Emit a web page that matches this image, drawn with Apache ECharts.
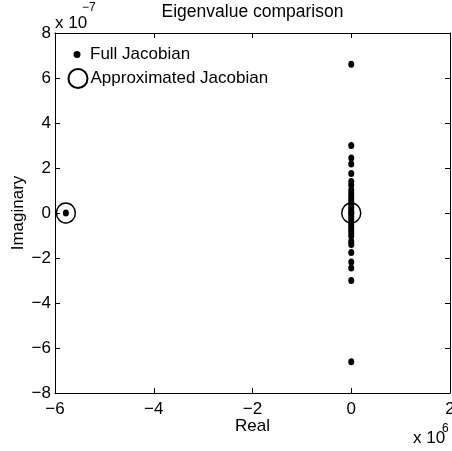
<!DOCTYPE html>
<html>
<head>
<meta charset="utf-8">
<script src="https://cdn.jsdelivr.net/npm/echarts@6/dist/echarts.min.js"></script>
<style>
  html, body { margin: 0; padding: 0; background: #fff; }
  #chart { width: 452px; height: 451px; }
</style>
</head>
<body>
<div id="chart"></div>
<script>
// Eigenvalues, real parts in units of 1e6 and imaginary parts in units of 1e-7
const fullReal = [-5.78, 0, 0, 0, 0, 0, 0, 0, 0, 0, 0, 0, 0, 0, 0, 0, 0,
                  0, 0, 0, 0, 0, 0, 0, 0, 0, 0, 0, 0, 0, 0, 0, 0];
const fullImag = [0, 6.61, 3.0, 2.44, 2.18, 1.76, 1.4, 1.25, 1.02, 0.88, 0.75, 0.62, 0.5, 0.38, 0.25, 0.12,
                  0, -0.12, -0.25, -0.38, -0.5, -0.62, -0.75, -0.88, -1.02, -1.25, -1.4, -1.76, -2.18, -2.44, -3.0, -6.61, 0];
const approxReal = [-5.78, 0];
const approxImag = [0, 0];

const xTicks = [-6, -4, -2, 0, 2];
const yTicks = [-8, -6, -4, -2, 0, 2, 4, 6, 8];

const FONT = '"Liberation Sans", Arial, Helvetica, sans-serif';
const fmt = v => (v < 0 ? '\u2212' + Math.abs(v) : String(v));

const fullData = fullReal.map((r, i) => [r, fullImag[i]]);
const approxData = approxReal.map((r, i) => [r, approxImag[i]]);

const baseAxis = {
  axisLine: { show: true, onZero: false, lineStyle: { color: '#000', width: 1 } },
  axisTick: { show: true, inside: true, length: 5, lineStyle: { color: '#000', width: 1 } },
  splitLine: { show: false }
};

const chart = echarts.init(document.getElementById('chart'), null, { renderer: 'canvas' });
chart.setOption({
  animation: false,
  backgroundColor: '#fff',
  grid: { left: 55, right: 2, top: 33, bottom: 58, containLabel: false, outerBoundsMode: 'none' },
  legend: [
    {
      data: [{ name: 'Full Jacobian', icon: 'circle' }], orient: 'vertical', left: 73.5, top: 46,
      itemWidth: 7, itemHeight: 7, padding: 0,
      textStyle: { fontFamily: FONT, fontSize: 17, color: '#000', padding: [0, 0, 0, 4.5] }
    },
    {
      data: ['Approximated Jacobian'], orient: 'vertical', left: 67.5, top: 68,
      itemWidth: 19, itemHeight: 20, padding: 0,
      textStyle: { fontFamily: FONT, fontSize: 17, color: '#000', padding: [0, 0, 0, -2] }
    }
  ],
  xAxis: [
    Object.assign({}, baseAxis, {
      type: 'value', position: 'bottom', min: xTicks[0], max: xTicks[xTicks.length - 1], interval: 2,
      name: 'Real', nameLocation: 'middle', nameGap: 25, nameMoveOverlap: false,
      nameTextStyle: { fontFamily: FONT, fontSize: 17, color: '#000' },
      axisLabel: { show: true, margin: 8, fontFamily: FONT, fontSize: 17, color: '#000', formatter: fmt }
    }),
    Object.assign({}, baseAxis, {
      type: 'value', position: 'top', min: xTicks[0], max: xTicks[xTicks.length - 1], interval: 2,
      axisLabel: { show: false }
    })
  ],
  yAxis: [
    Object.assign({}, baseAxis, {
      type: 'value', position: 'left', min: yTicks[0], max: yTicks[yTicks.length - 1], interval: 2,
      name: 'Imaginary', nameLocation: 'middle', nameGap: 28, nameMoveOverlap: false,
      nameTextStyle: { fontFamily: FONT, fontSize: 17, color: '#000' },
      axisLabel: { show: true, margin: 4, fontFamily: FONT, fontSize: 17, color: '#000', formatter: fmt }
    }),
    Object.assign({}, baseAxis, {
      type: 'value', position: 'right', min: yTicks[0], max: yTicks[yTicks.length - 1], interval: 2,
      axisLabel: { show: false }
    })
  ],
  series: [
    {
      name: 'Full Jacobian', type: 'scatter', xAxisIndex: 0, yAxisIndex: 0,
      symbol: 'circle', symbolSize: [6, 7],
      itemStyle: { color: '#000', opacity: 1 },
      data: fullData
    },
    {
      name: 'Approximated Jacobian', type: 'scatter', xAxisIndex: 0, yAxisIndex: 0,
      symbol: 'circle', symbolSize: [19, 20],
      itemStyle: { color: 'rgba(0,0,0,0)', borderColor: '#000', borderWidth: 1.5, opacity: 1 },
      data: approxData
    }
  ],
  graphic: [
    { type: 'text', x: 252.5, y: 3, style: { text: 'Eigenvalue comparison', font: '17.5px ' + FONT, fill: '#000', align: 'center', verticalAlign: 'top' } },
    { type: 'text', left: 55, top: 15, style: { text: 'x 10', font: '17px ' + FONT, fill: '#000' } },
    { type: 'text', left: 82, top: 2, style: { text: '\u22127', font: '12px ' + FONT, fill: '#000' } },
    { type: 'text', left: 413, top: 430, style: { text: 'x 10', font: '17px ' + FONT, fill: '#000' } },
    { type: 'text', left: 442, top: 423, style: { text: '6', font: '12px ' + FONT, fill: '#000' } }
  ]
});
</script>
</body>
</html>
